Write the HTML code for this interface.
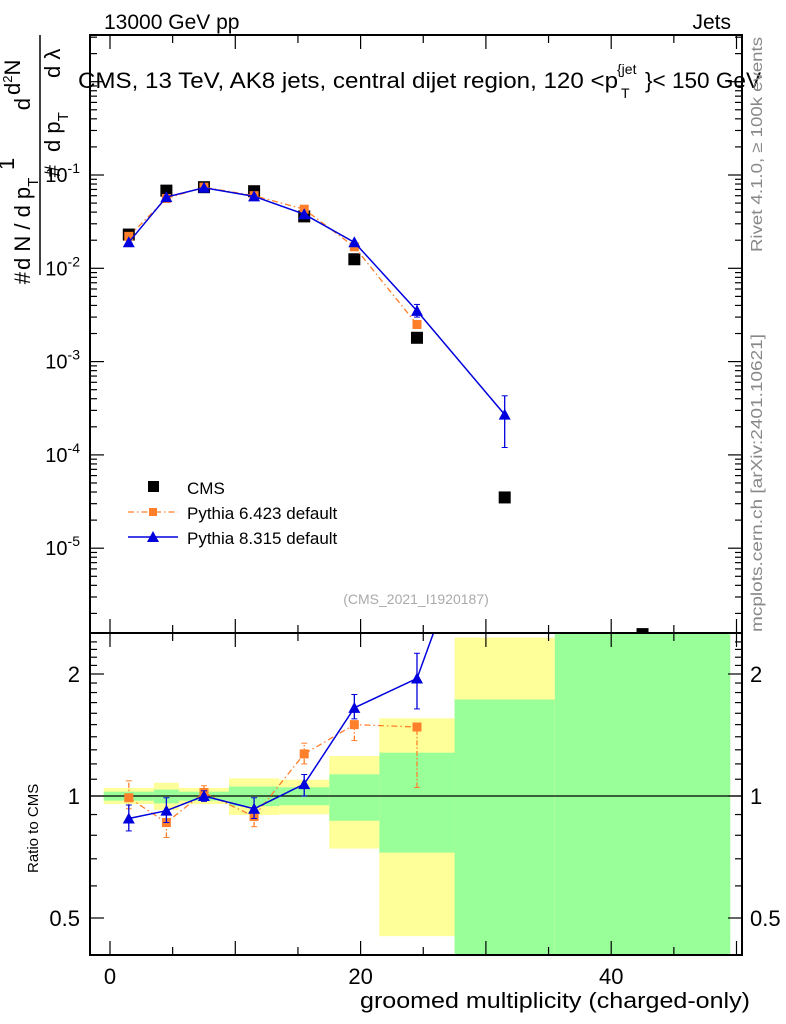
<!DOCTYPE html>
<html><head><meta charset="utf-8"><style>
html,body{margin:0;padding:0;background:#fff;width:786px;height:1024px;overflow:hidden;position:relative}
svg{font-family:"Liberation Sans",sans-serif;display:block;position:absolute;left:0;top:0;overflow:hidden}
</style></head><body>
<svg id="c" width="786" height="1024"></svg>
<script>
const xCenters=[1.5,4.5,7.5,11.5,15.5,19.5,24.5,31.5,42.5];
const binEdges=[-0.5,3.5,5.5,9.5,13.5,17.5,21.5,27.5,35.5,49.5];
const cmsVals=[0.023,0.068,0.074,0.067,0.036,0.0125,0.0018,0.000035,0.0000012];
const py6Vals=[0.022,0.056,0.074,0.060,0.043,0.017,0.0025];
const py8Vals=[0.019,0.058,0.073,0.059,0.038,0.019,0.0035,0.00027];
const py8Lo=[0.019,0.058,0.073,0.059,0.038,0.019,0.0030,0.00012];
const py8Hi=[0.019,0.058,0.073,0.059,0.038,0.019,0.0041,0.00043];
const py6Ratio=[0.99,0.86,1.02,0.89,1.27,1.5,1.48];
const py6RLo=[0.93,0.79,0.98,0.84,1.2,1.37,1.05];
const py6RHi=[1.09,0.92,1.06,0.93,1.35,1.5,1.5];
const py8Ratio=[0.88,0.92,1.0,0.93,1.07,1.65,1.95,7.7];
const py8RLo=[0.82,0.86,0.97,0.88,1.0,1.55,1.64,5];
const py8RHi=[0.95,0.99,1.03,0.99,1.13,1.78,2.25,8];
const yellowHi=[1.047,1.078,1.047,1.105,1.097,1.255,1.555,2.46,2.6];
const yellowLo=[0.955,0.924,0.955,0.898,0.901,0.742,0.451,0.4,0.4];
const greenHi=[1.025,1.037,1.025,1.055,1.051,1.131,1.279,1.73,2.6];
const greenLo=[0.974,0.959,0.974,0.944,0.949,0.869,0.725,0.4,0.4];
const xTicks=[0,20,40];
const mainTicks=[-1,-2,-3,-4,-5];
const ratioTicks=[0.5,1,2];

const L=90,R=742,T=35,MB=633,RB=955;
const X=v=>110+(v)*12.53;
const YM=v=>175-(Math.log10(v)+1)*93.3;
const YR=v=>796-Math.log2(v)*122;
const svg=document.getElementById('c');
const NS='http://www.w3.org/2000/svg';
function el(tag,attrs,parent){const e=document.createElementNS(NS,tag);for(const k in attrs)e.setAttribute(k,attrs[k]);(parent||svg).appendChild(e);return e;}
function txt(s,attrs,parent){const e=el('text',attrs,parent);e.textContent=s;return e;}

const defs=el('defs',{});
const c1=el('clipPath',{id:'cm'},defs);el('rect',{x:L,y:T,width:R-L,height:MB-T},c1);
const c2=el('clipPath',{id:'cr'},defs);el('rect',{x:L,y:MB,width:R-L,height:RB-MB},c2);

const bands=el('g',{'clip-path':'url(#cr)'});


for(let i=0;i<xCenters.length;i++){
  const x0=X(binEdges[i]),x1=X(binEdges[i+1]);
  const y=el('rect',{x:x0,y:YR(yellowHi[i]),width:x1-x0,height:YR(yellowLo[i])-YR(yellowHi[i]),fill:'#ffff99'},bands);
  
  
  const g=el('rect',{x:x0,y:YR(greenHi[i]),width:x1-x0,height:YR(greenLo[i])-YR(greenHi[i]),fill:'#99ff99'},bands);
  
  
}
el('line',{x1:L,x2:R,y1:YR(1),y2:YR(1),stroke:'#000','stroke-width':1.2});

function tri(g,x,y,c){el('polygon',{points:`${x-6},${y+5} ${x+6},${y+5} ${x},${y-6}`,fill:c},g);}
function sq(g,x,y,c,s){el('rect',{x:x-s,y:y-s,width:2*s,height:2*s,fill:c},g);}
function errbar(g,x,y1,y2,c,dash){el('line',{x1:x,x2:x,y1:y1,y2:y2,stroke:c,'stroke-width':1.3,'stroke-dasharray':dash||''},g);
 el('line',{x1:x-3,x2:x+3,y1:y1,y2:y1,stroke:c},g);el('line',{x1:x-3,x2:x+3,y1:y2,y2:y2,stroke:c},g);}

const gm=el('g',{'clip-path':'url(#cm)'});
const cms=el('g',{},gm);


cmsVals.forEach((v,i)=>sq(cms,X(xCenters[i]),YM(v),'#000',6));
const p6=el('g',{},gm);


el('polyline',{points:py6Vals.map((v,i)=>X(xCenters[i])+','+YM(v)).join(' '),fill:'none',stroke:'#ff7f2a','stroke-width':1.3,'stroke-dasharray':'6,3,1.5,3'},p6);
py6Vals.forEach((v,i)=>sq(p6,X(xCenters[i]),YM(v),'#ff7f2a',4.5));
const p8=el('g',{},gm);


el('polyline',{points:py8Vals.map((v,i)=>X(xCenters[i])+','+YM(v)).join(' '),fill:'none',stroke:'#0000dd','stroke-width':1.5},p8);
py8Vals.forEach((v,i)=>{if(py8Hi[i]/py8Lo[i]>1.05)errbar(p8,X(xCenters[i]),YM(py8Lo[i]),YM(py8Hi[i]),'#0000dd');tri(p8,X(xCenters[i]),YM(v),'#0000dd');});

const gr=el('g',{'clip-path':'url(#cr)'});
const r6=el('g',{},gr);


el('polyline',{points:py6Ratio.map((v,i)=>X(xCenters[i])+','+YR(v)).join(' '),fill:'none',stroke:'#ff7f2a','stroke-width':1.3,'stroke-dasharray':'6,3,1.5,3'},r6);
py6Ratio.forEach((v,i)=>{errbar(r6,X(xCenters[i]),YR(py6RLo[i]),YR(py6RHi[i]),'#ff7f2a','5,2,1.5,2');sq(r6,X(xCenters[i]),YR(v),'#ff7f2a',4.5);});
const r8=el('g',{},gr);


el('polyline',{points:py8Ratio.map((v,i)=>X(xCenters[i])+','+YR(v)).join(' '),fill:'none',stroke:'#0000dd','stroke-width':1.5},r8);
py8Ratio.forEach((v,i)=>{errbar(r8,X(xCenters[i]),YR(py8RLo[i]),YR(py8RHi[i]),'#0000dd');tri(r8,X(xCenters[i]),YR(v),'#0000dd');});

el('rect',{x:L,y:T,width:R-L,height:MB-T,fill:'none',stroke:'#000','stroke-width':2});
el('rect',{x:L,y:MB,width:R-L,height:RB-MB,fill:'none',stroke:'#000','stroke-width':2});

for(let v=0;v<=50;v+=5){const x=X(v);const big=v%10==0;const h=big?14:8;
 [[T,T+h],[MB-h,MB],[MB,MB+h],[RB-h,RB]].forEach(([a,b])=>el('line',{x1:x,x2:x,y1:a,y2:b,stroke:'#000','stroke-width':1.2}));}
xTicks.forEach(v=>{const t=txt(String(v),{x:X(v),y:984,'font-size':22,'text-anchor':'middle'});
 });
for(let d=-6;d<=0;d++)for(let m=1;m<10;m++){const y=YM(m*Math.pow(10,d));if(y<T||y>MB)continue;const h=m==1?14:7;
 el('line',{x1:L,x2:L+h,y1:y,y2:y,stroke:'#000','stroke-width':1.2});el('line',{x1:R-h,x2:R,y1:y,y2:y,stroke:'#000','stroke-width':1.2});}
mainTicks.forEach(d=>{const g=el('text',{x:80,y:YM(Math.pow(10,d))+7,'font-size':20,'text-anchor':'end'});
 
 g.innerHTML='10<tspan dy="-9" font-size="14">'+d+'</tspan>';});
for(let v=0.4;v<=2.5;v+=0.1){const y=YR(v);if(y<MB||y>RB)continue;const big=[0.5,1,2].some(k=>Math.abs(k-v)<1e-6);const h=big?14:7;
 el('line',{x1:L,x2:L+h,y1:y,y2:y,stroke:'#000','stroke-width':1.2});el('line',{x1:R-h,x2:R,y1:y,y2:y,stroke:'#000','stroke-width':1.2});}
ratioTicks.forEach(v=>{const a=txt(String(v),{x:80,y:YR(v)+8,'font-size':22,'text-anchor':'end'});
 
 const b=txt(String(v),{x:750,y:YR(v)+8,'font-size':22});
 });
</script>
<svg width="786" height="1024">
<text x="104" y="29" font-size="21">13000 GeV pp</text>
<text x="731" y="29" font-size="21" text-anchor="end">Jets</text>
<text x="78" y="88" font-size="22" textLength="540" lengthAdjust="spacingAndGlyphs">CMS, 13 TeV, AK8 jets, central dijet region, 120 &lt;p</text>
<text x="621" y="98" font-size="14">T</text>
<text x="617" y="74" font-size="14">{jet</text>
<text x="645" y="88" font-size="22" textLength="116" lengthAdjust="spacingAndGlyphs">}&lt; 150 GeV</text>
<g font-size="22">
<text transform="translate(30,270) rotate(-90)">d N / d p<tspan dy="8" font-size="15">T</tspan></text>
<text transform="translate(30,272) rotate(-90)" text-anchor="end">#</text>
<text transform="translate(30,98) rotate(-90)" text-anchor="end">d</text>
<text transform="translate(60,152) rotate(-90)">d p<tspan dy="8" font-size="15">T</tspan></text>
<text transform="translate(60,165) rotate(-90)" text-anchor="end">#</text>
<text transform="translate(60,78) rotate(-90)">d λ</text>
<line x1="40" y1="35" x2="40" y2="275" stroke="#000" stroke-width="1.5"/>
<text transform="translate(14,170) rotate(-90)">1</text>
<text transform="translate(20,95) rotate(-90)">d<tspan dy="-8" font-size="13">2</tspan><tspan dy="8">N</tspan></text>
</g>
<text transform="translate(38,873) rotate(-90)" font-size="15">Ratio to CMS</text>
<text x="360" y="1008" font-size="22" textLength="390" lengthAdjust="spacingAndGlyphs">groomed multiplicity (charged-only)</text>
<text transform="translate(762,252) rotate(-90)" font-size="16" textLength="215" lengthAdjust="spacingAndGlyphs" fill="#888">Rivet 4.1.0, ≥ 100k events</text>
<text transform="translate(762,632) rotate(-90)" font-size="16" textLength="298" lengthAdjust="spacingAndGlyphs" fill="#888">mcplots.cern.ch [arXiv:2401.10621]</text>
<text x="416" y="604" font-size="14" fill="#aaa" text-anchor="middle">(CMS_2021_I1920187)</text>
<g font-size="17">
<g><rect x="148" y="481" width="11" height="11" fill="#000"/><text x="187" y="494">CMS</text></g>
<g><line x1="128" x2="178" y1="512" y2="512" stroke="#ff7f2a" stroke-width="1.3" stroke-dasharray="6,3,1.5,3"/><rect x="149" y="508" width="8" height="8" fill="#ff7f2a"/><text x="187" y="519">Pythia 6.423 default</text></g>
<g><line x1="128" x2="178" y1="537" y2="537" stroke="#0000dd" stroke-width="1.5"/><polygon points="147,542 159,542 153,531" fill="#0000dd"/><text x="187" y="544">Pythia 8.315 default</text></g>
</g>
</svg>
</body></html>
